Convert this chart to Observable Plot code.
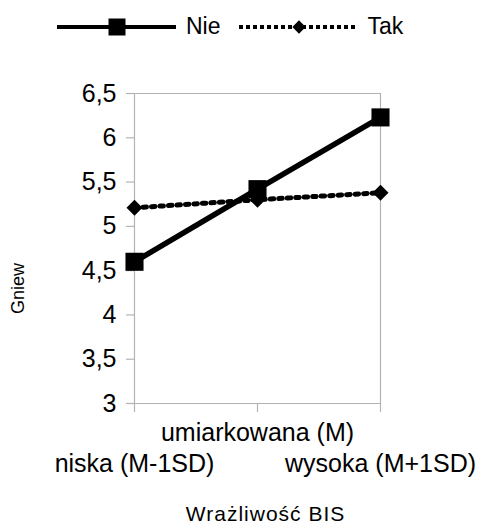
<!DOCTYPE html>
<html>
<head>
<meta charset="utf-8">
<script src="https://cdn.jsdelivr.net/npm/d3@7"></script>
<script src="https://cdn.jsdelivr.net/npm/@observablehq/plot@0.6"></script>
<style>
  html, body { margin: 0; padding: 0; background: #fff; }
  body { width: 482px; height: 531px; overflow: hidden; font-family: "Liberation Sans", Arial, sans-serif; }
  #legend { height: 50px; display: flex; align-items: center; padding-left: 57px; padding-top: 3px; box-sizing: border-box; font-size: 23px; color: #000; }
  #legend svg { display: block; }
  #legend span { display: block; line-height: 1; }
  #chart svg { display: block; }
</style>
</head>
<body>
<div id="legend"></div>
<div id="chart"></div>
<script>
const categories = ["niska (M-1SD)", "umiarkowana (M)", "wysoka (M+1SD)"];
const seriesNames = ["Nie", "Tak"];
const nieValues = [4.6, 5.42, 6.23];
const takValues = [5.21, 5.30, 5.38];
const yTicks = [3, 3.5, 4, 4.5, 5, 5.5, 6, 6.5];
const xTitle = "Wrażliwość BIS";
const yTitle = "Gniew";

const nieData = categories.map((c, i) => ({category: c, value: nieValues[i], series: seriesNames[0]}));
const takData = categories.map((c, i) => ({category: c, value: takValues[i], series: seriesNames[1]}));

const gray = "#b3b3b3";
const fmt = d => String(d).replace(".", ",");

const chart = Plot.plot({
  width: 482,
  height: 481,
  marginTop: 43,
  marginBottom: 128,
  marginLeft: 134,
  marginRight: 102,
  style: {fontFamily: "Liberation Sans, Arial, sans-serif", color: "#000", background: "#fff", overflow: "visible"},
  x: {type: "point", domain: categories, padding: 0, tickSize: 9, tickFormat: () => "", label: null},
  y: {domain: [3, 6.5], ticks: yTicks, tickSize: 8, tickPadding: 10, tickFormat: fmt, label: null},
  marks: [
    Plot.ruleY([6.5], {stroke: gray, strokeWidth: 1}),
    Plot.ruleX([categories[2]], {stroke: gray, strokeWidth: 1.2}),
    Plot.ruleX([categories[0]], {stroke: gray, strokeWidth: 1.2}),
    Plot.ruleY([3], {stroke: gray, strokeWidth: 1.2}),
    Plot.text([categories[1]], {x: d => d, frameAnchor: "bottom", dy: 37, fontSize: 25, fill: "#000"}),
    Plot.text([categories[0], categories[2]], {x: d => d, frameAnchor: "bottom", dy: 68, fontSize: 25, fill: "#000"}),
    Plot.text([xTitle], {frameAnchor: "bottom", dx: 8, dy: 117, fontSize: 21, fill: "#000"}),
    Plot.text([yTitle], {frameAnchor: "left", textAnchor: "middle", dx: -116, dy: 40, rotate: -90, fontSize: 18, fill: "#000"}),
    Plot.line(takData, {x: "category", y: "value", stroke: "#000", strokeWidth: 5, strokeDasharray: "3.5,5"}),
    Plot.line(nieData, {x: "category", y: "value", stroke: "#000", strokeWidth: 5.5}),
    Plot.dot(takData, {x: "category", y: "value", symbol: "diamond2", r: 7.2, fill: "#000", stroke: "none"}),
    Plot.dot(nieData, {x: "category", y: "value", symbol: "square", r: 10.2, fill: "#000", stroke: "none"})
  ]
});
document.getElementById("chart").appendChild(chart);

// Style axes: gray tick lines, black labels
const svg = d3.select(chart.tagName.toLowerCase() === "svg" ? chart : chart.querySelector("svg"));
svg.selectAll('[aria-label^="y-axis"] line, [aria-label^="y-axis"] path, [aria-label^="x-axis"] line, [aria-label^="x-axis"] path')
  .attr("stroke", gray).style("stroke", gray).attr("stroke-width", 1.2);
svg.selectAll('[aria-label^="y-axis"] text')
  .attr("font-size", 25).style("font-size", "25px").attr("fill", "#000");
svg.selectAll('[aria-label^="y-axis"]').attr("font-size", 25);
svg.selectAll('[aria-label^="x-axis"] text').text("");
svg.selectAll("text").filter(function() { return this.textContent === xTitle; }).style("letter-spacing", "1px");

// Legend
const legend = d3.select("#legend");
function addItem(name, dashed, symbolType, size, gap) {
  const s = legend.append("svg").attr("width", 119).attr("height", 24);
  s.append("line").attr("x1", 0).attr("x2", 119).attr("y1", 12).attr("y2", 12)
    .attr("stroke", "#000").attr("stroke-width", 4)
    .attr("stroke-dasharray", dashed ? "4,3" : null);
  s.append("path").attr("transform", "translate(60,12)")
    .attr("d", d3.symbol(symbolType, size)()).attr("fill", "#000");
  legend.append("span").style("margin-left", "10px").style("margin-right", gap + "px").text(name);
}
addItem(seriesNames[0], false, d3.symbolSquare, 289, 18);
addItem(seriesNames[1], true, d3.symbolDiamond2, 112, 0);
</script>
</body>
</html>
